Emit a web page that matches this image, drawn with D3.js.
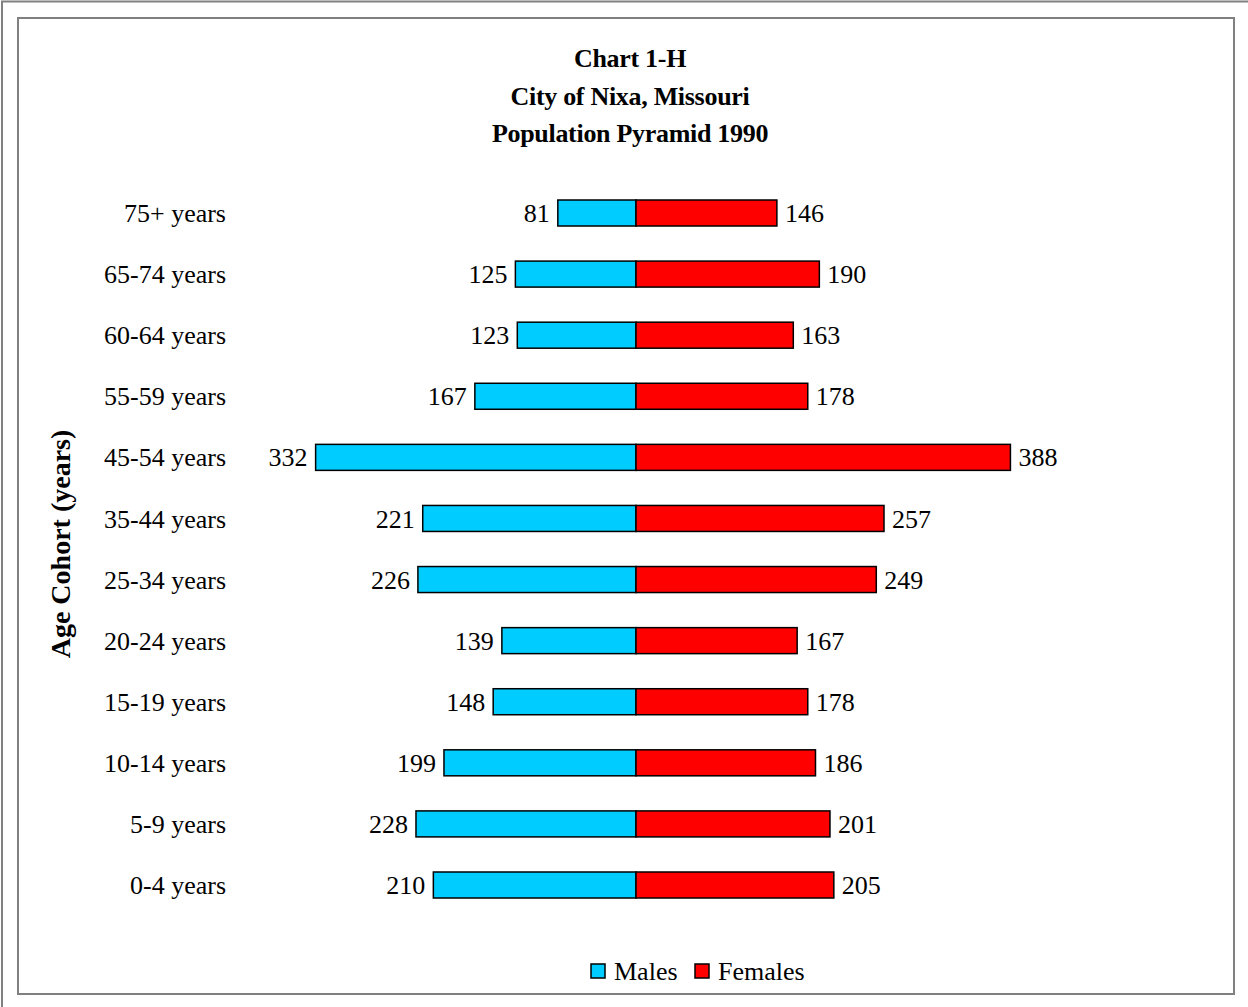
<!DOCTYPE html>
<html>
<head>
<meta charset="utf-8">
<script src="https://cdn.jsdelivr.net/npm/d3@7"></script>
<style>
  body { margin: 0; background: #fff; }
  text { font-family: "Liberation Serif", "Times New Roman", serif; fill: #000; }
</style>
</head>
<body>
<div id="chart"></div>
<script>
let ageGroups = ["75+ years", "65-74 years", "60-64 years", "55-59 years", "45-54 years", "35-44 years",
	"25-34 years", "20-24 years", "15-19 years", "10-14 years", "5-9 years", "0-4 years"];
let males = [81, 125, 123, 167, 332, 221, 226, 139, 148, 199, 228, 210];
let females = [146, 190, 163, 178, 388, 257, 249, 167, 178, 186, 201, 205];
let titleLines = ["Chart 1-H", "City of Nixa, Missouri", "Population Pyramid 1990"];
let seriesNames = ["Males", "Females"];
let seriesColors = ["#00CCFF", "#FF0000"];

var width = 1248, height = 1007;
var center = 636;
var barH = 26;

var svg = d3.select("#chart").append("svg")
	.attr("width", width)
	.attr("height", height);

// frames
svg.append("rect")
	.attr("x", 2).attr("y", 1.5)
	.attr("width", 1300).attr("height", 1100)
	.attr("fill", "none").attr("stroke", "#808080").attr("stroke-width", 2);
svg.append("rect")
	.attr("x", 18).attr("y", 18)
	.attr("width", 1216).attr("height", 976)
	.attr("fill", "none").attr("stroke", "#808080").attr("stroke-width", 2);

// title
svg.append("g").selectAll("text")
	.data(titleLines)
	.enter().append("text")
	.attr("x", 630)
	.attr("y", (d, i) => 67 + i * 37.5)
	.attr("text-anchor", "middle")
	.attr("font-weight", "bold")
	.attr("font-size", 26)
	.attr("letter-spacing", -0.3)
	.text(d => d);

var xScale = d3.scaleLinear()
	.domain([0, 400])
	.range([0, 386]);
var yScale = d3.scalePoint()
	.domain(ageGroups)
	.range([213, 885]);

var rows = svg.append("g").selectAll("g")
	.data(ageGroups.map((a, i) => ({age: a, m: males[i], f: females[i]})))
	.enter().append("g")
	.attr("transform", d => "translate(0," + yScale(d.age) + ")");

rows.append("text")
	.attr("x", 226)
	.attr("dy", "0.35em")
	.attr("text-anchor", "end")
	.attr("font-size", 26)
	.text(d => d.age);

rows.append("rect")
	.attr("x", d => center - xScale(d.m))
	.attr("y", -barH / 2)
	.attr("width", d => xScale(d.m))
	.attr("height", barH)
	.attr("fill", seriesColors[0])
	.attr("stroke", "#000").attr("stroke-width", 1.5);

rows.append("rect")
	.attr("x", center)
	.attr("y", -barH / 2)
	.attr("width", d => xScale(d.f))
	.attr("height", barH)
	.attr("fill", seriesColors[1])
	.attr("stroke", "#000").attr("stroke-width", 1.5);

rows.append("text")
	.attr("x", d => center - xScale(d.m) - 8)
	.attr("dy", "0.35em")
	.attr("text-anchor", "end")
	.attr("font-size", 26)
	.text(d => d.m);

rows.append("text")
	.attr("x", d => center + xScale(d.f) + 8)
	.attr("dy", "0.35em")
	.attr("font-size", 26)
	.text(d => d.f);

// y axis title
svg.append("text")
	.attr("transform", "translate(70,544) rotate(-90)")
	.attr("text-anchor", "middle")
	.attr("font-weight", "bold")
	.attr("font-size", 28)
	.text("Age Cohort (years)");

// legend
var legendX = [591, 695];
var legend = svg.append("g").selectAll("g")
	.data(seriesNames)
	.enter().append("g")
	.attr("transform", (d, i) => "translate(" + legendX[i] + ",964)");
legend.append("rect")
	.attr("width", 14).attr("height", 14)
	.attr("fill", (d, i) => seriesColors[i])
	.attr("stroke", "#000").attr("stroke-width", 1.5);
legend.append("text")
	.attr("x", 23).attr("y", 7)
	.attr("dy", "0.35em")
	.attr("font-size", 26)
	.text(d => d);
</script>
</body>
</html>
